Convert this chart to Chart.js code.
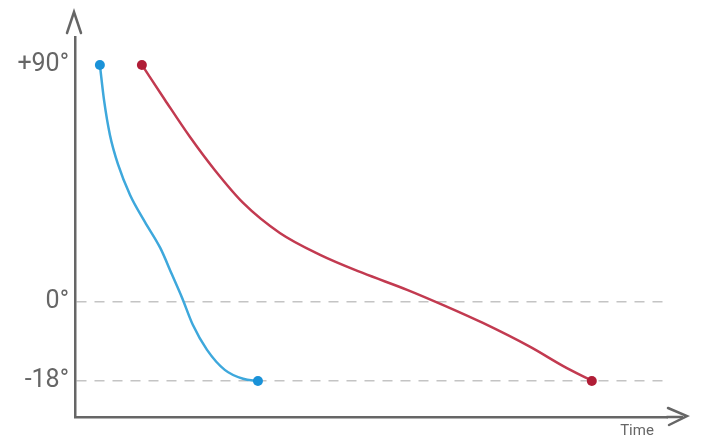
<!DOCTYPE html>
<html>
<head>
<meta charset="utf-8">
<script src="https://cdn.jsdelivr.net/npm/chart.js@4"></script>
<style>
  html, body { margin: 0; padding: 0; background: #fff; }
  #wrap { width: 701px; height: 443px; position: relative; }
</style>
</head>
<body>
<div id="wrap"><canvas id="chart"></canvas></div>
<script>
//Schematic elevation-vs-time sketch. Y is a drawing position, not a
//linear angle: +90 deg sits at 90, 0 deg at 0, and -18 deg is drawn
//at -30 so the gap below the horizon matches the original figure.

const TICK_VALUES = [90, 0, -30];
const TICK_LABELS = ['+90°', '0°', '-18°'];
const X_TITLE = 'Time';

const BLUE_X = [4.2, 4.9, 5.9, 7.3, 9.3, 11.8, 14.4, 16.4, 18.1, 19.9, 22.3, 25.3, 28.4, 30.9];
const BLUE_Y = [90, 76.7, 63.4, 52.0, 40.6, 30.4, 20.5, 10.3, 1.5, -8.7, -18.2, -25.8, -29.2, -30];

const RED_X = [11.3, 15.2, 19.4, 23.6, 28.4, 34.6, 41.4, 48.6, 56.1, 62.5, 68.9, 76.9, 82.4, 87.3];
const RED_Y = [90, 76.7, 62.7, 50.1, 37.6, 26.2, 17.9, 11.0, 4.6, -1.5, -8.0, -17.1, -24.3, -30];

const AXIS = '#666666';
const GRID = '#c4c4c4';

function toPoints(xs, ys)
{
    return xs.map((x, i) => ({ x, y: ys[i] }));
}

//Only the two ends of each curve carry a dot.
function endsOnly(r)
{
    return (ctx) =>
    {
        const n = ctx.dataset.data.length;
        return (ctx.dataIndex === 0 || ctx.dataIndex === n - 1) ? r : 0;
    };
}

function series(xs, ys, line, dot)
{
    return {
        data: toPoints(xs, ys),
        borderColor: line,
        borderWidth: 2.5,
        backgroundColor: dot,
        pointBackgroundColor: dot,
        pointBorderWidth: 0,
        pointRadius: endsOnly(5),
        pointHoverRadius: endsOnly(5),
        cubicInterpolationMode: 'monotone',
        clip: false,
    };
}

//Open chevrons at the ends of both axes, plus the "Time" caption
//tucked under the x arrow.
const arrows = {
    id: 'axis-arrows',
    afterDraw(chart)
    {
        const a = chart.chartArea;
        const c = chart.ctx;
        c.save();
        c.strokeStyle = AXIS;
        c.lineWidth = 2.5;
        c.lineCap = 'round';
        c.beginPath();
        c.moveTo(a.left - 8, 33);
        c.lineTo(a.left - 1, 12);
        c.lineTo(a.left + 6, 33);
        c.stroke();
        c.beginPath();
        c.moveTo(a.right, a.bottom);
        c.lineTo(a.right + 15, a.bottom);
        c.stroke();
        c.beginPath();
        c.moveTo(a.right + 1, a.bottom - 9);
        c.lineTo(a.right + 20, a.bottom - 1);
        c.lineTo(a.right + 2, a.bottom + 8);
        c.stroke();

        c.fillStyle = AXIS;
        c.font = '15px Roboto';
        c.textAlign = 'center';
        c.textBaseline = 'middle';
        c.fillText(X_TITLE, a.right - 30, a.bottom + 14);
        c.restore();
    },
};

new Chart(document.getElementById('chart'), {
    type: 'line',
    data: {
        datasets: [
            series(BLUE_X, BLUE_Y, '#3ea8dc', '#1a92d8'),
            series(RED_X, RED_Y, '#c23a50', '#b01d36'),
        ],
    },
    options: {
        responsive: true,
        maintainAspectRatio: false,
        animation: false,
        events: [],
        layout: { padding: { top: 37, right: 34, left: 0, bottom: 0 } },
        plugins: { legend: { display: false }, tooltip: { enabled: false } },
        scales: {
            x: {
                type: 'linear',
                min: 0,
                max: 100,
                ticks: { display: false },
                grid: { display: false, drawTicks: false },
                border: { display: true, color: AXIS, width: 2.5 },
                afterFit(scale) { scale.height = 26; },
            },
            y: {
                type: 'linear',
                min: -43.7,
                max: 100.6,
                afterBuildTicks(scale)
                {
                    scale.ticks = TICK_VALUES.map((v) => ({ value: v }));
                },
                ticks: {
                    color: AXIS,
                    padding: 6,
                    font: { family: 'Roboto', size: 25 },
                    callback: (v) => TICK_LABELS[TICK_VALUES.indexOf(v)],
                },
                grid: {
                    drawTicks: false,
                    lineWidth: 1.5,
                    color: (ctx) => (ctx.tick && ctx.tick.value === 90 ? 'transparent' : GRID),
                },
                border: { display: true, color: AXIS, width: 2.5, dash: [10, 8] },
                afterFit(scale) { scale.width = 75; },
            },
        },
    },
    plugins: [arrows],
});
</script>
</body>
</html>
